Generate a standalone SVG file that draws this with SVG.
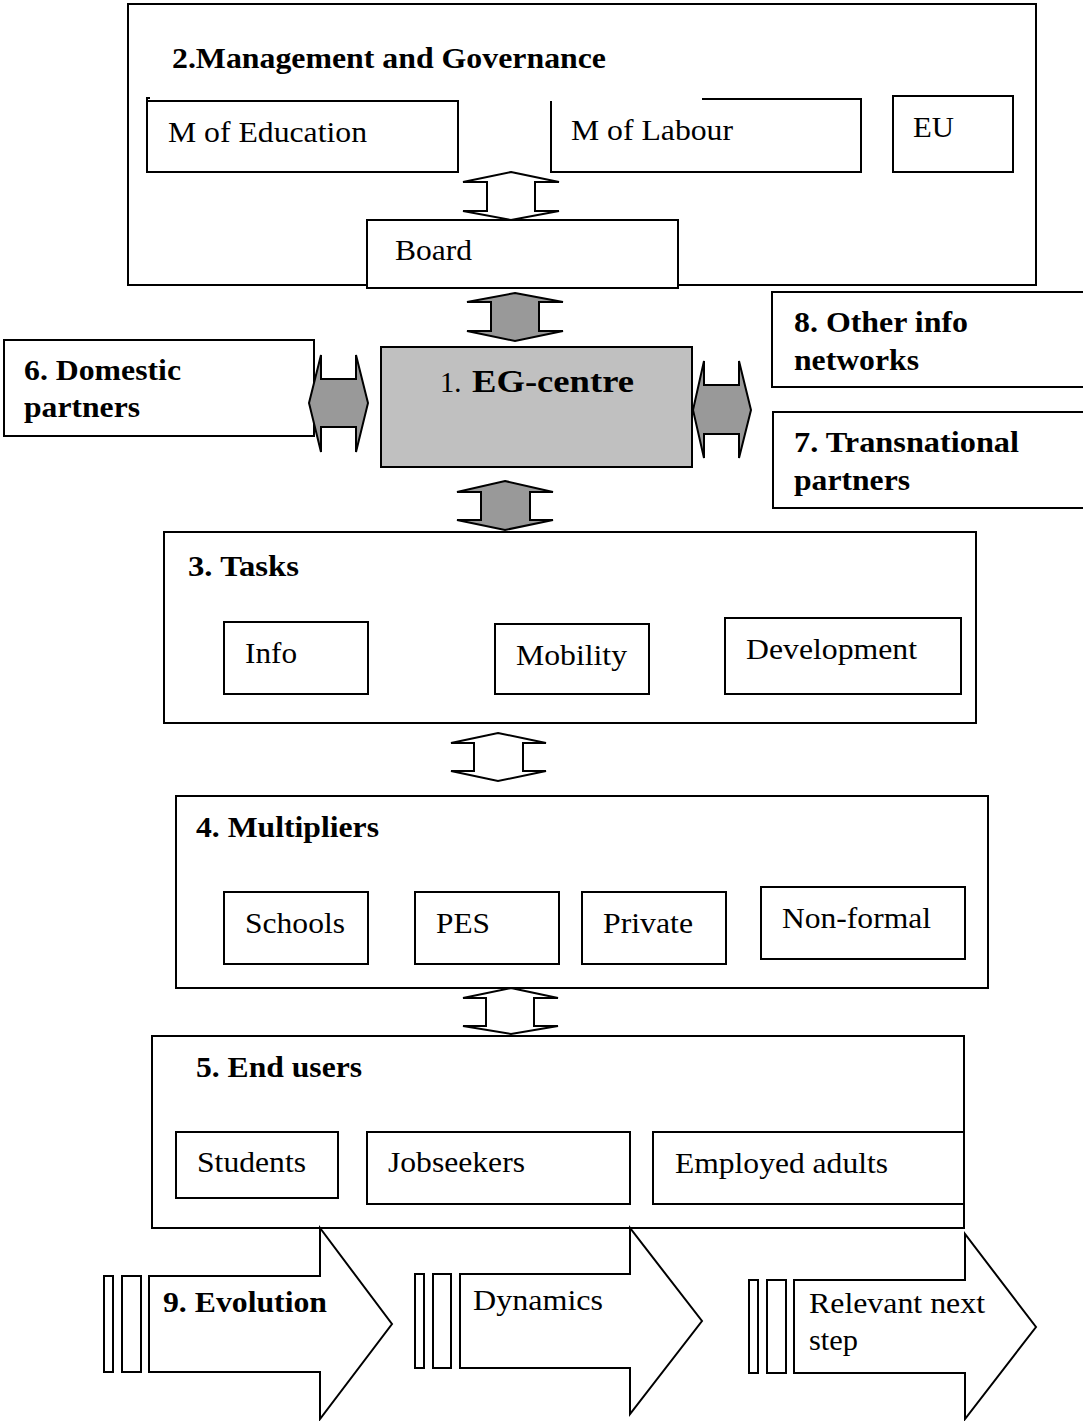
<svg xmlns="http://www.w3.org/2000/svg" width="1083" height="1421" viewBox="0 0 1083 1421" font-family="'Liberation Serif', Tinos, 'Times New Roman', Times, serif">
<style>
.box, .eg, .ga, .wa { stroke: #000; stroke-width: 2; }
.box { fill: #fff; }
.eg { fill: #c0c0c0; }
.ga { fill: #999999; }
.wa { fill: #fff; }
.r { font-size: 28.5px; fill: #000; }
.b { font-size: 30px; font-weight: bold; fill: #000; }
</style>
<rect width="1083" height="1421" fill="#fff"/>

<g id="management">
  <rect class="box" x="128" y="4" width="908" height="281"/>
  <text class="b" x="172" y="68" textLength="434" lengthAdjust="spacingAndGlyphs">2.Management and Governance</text>
</g>
<g id="m-education">
  <rect class="box" x="147" y="101" width="311" height="71"/>
  <path class="box" d="M147,101 L147,98 L150,98"/>
  <text class="r" x="168" y="142" textLength="199" lengthAdjust="spacingAndGlyphs">M of Education</text>
</g>
<g id="m-labour">
  <path class="box" d="M702,99 L861,99 L861,172 L551,172 L551,101"/>
  <text class="r" x="571" y="140" textLength="162" lengthAdjust="spacingAndGlyphs">M of Labour</text>
</g>
<g id="eu">
  <rect class="box" x="893" y="96" width="120" height="76"/>
  <text class="r" x="913" y="137" textLength="41" lengthAdjust="spacingAndGlyphs">EU</text>
</g>
<g id="board">
  <rect class="box" x="367" y="220" width="311" height="68"/>
  <text class="r" x="395" y="260" textLength="77" lengthAdjust="spacingAndGlyphs">Board</text>
</g>

<g id="eg-centre">
  <rect class="eg" x="381" y="347" width="311" height="120"/>
  <text x="440" y="392" font-size="28.5">1.</text>
  <text x="472" y="392" font-size="32" font-weight="bold" textLength="162" lengthAdjust="spacingAndGlyphs">EG-centre</text>
</g>

<g id="domestic">
  <rect class="box" x="4" y="340" width="310" height="96"/>
  <text class="b" x="24" y="380" textLength="157" lengthAdjust="spacingAndGlyphs">6. Domestic</text>
  <text class="b" x="24" y="417" textLength="116" lengthAdjust="spacingAndGlyphs">partners</text>
</g>
<g id="other-info">
  <rect class="box" x="772" y="292" width="320" height="95"/>
  <text class="b" x="794" y="332" textLength="174" lengthAdjust="spacingAndGlyphs">8. Other info</text>
  <text class="b" x="794" y="370" textLength="125" lengthAdjust="spacingAndGlyphs">networks</text>
</g>
<g id="transnational">
  <rect class="box" x="773" y="412" width="320" height="96"/>
  <text class="b" x="794" y="452" textLength="225" lengthAdjust="spacingAndGlyphs">7. Transnational</text>
  <text class="b" x="794" y="490" textLength="116" lengthAdjust="spacingAndGlyphs">partners</text>
</g>

<g id="tasks">
  <rect class="box" x="164" y="532" width="812" height="191"/>
  <text class="b" x="188" y="576" textLength="111" lengthAdjust="spacingAndGlyphs">3. Tasks</text>
</g>
<g id="info">
  <rect class="box" x="224" y="622" width="144" height="72"/>
  <text class="r" x="245" y="663" textLength="52" lengthAdjust="spacingAndGlyphs">Info</text>
</g>
<g id="mobility">
  <rect class="box" x="495" y="624" width="154" height="70"/>
  <text class="r" x="516" y="665" textLength="111" lengthAdjust="spacingAndGlyphs">Mobility</text>
</g>
<g id="development">
  <rect class="box" x="725" y="618" width="236" height="76"/>
  <text class="r" x="746" y="659" textLength="171" lengthAdjust="spacingAndGlyphs">Development</text>
</g>

<g id="multipliers">
  <rect class="box" x="176" y="796" width="812" height="192"/>
  <text class="b" x="196" y="837" textLength="183" lengthAdjust="spacingAndGlyphs">4. Multipliers</text>
</g>
<g id="schools">
  <rect class="box" x="224" y="892" width="144" height="72"/>
  <text class="r" x="245" y="933" textLength="100" lengthAdjust="spacingAndGlyphs">Schools</text>
</g>
<g id="pes">
  <rect class="box" x="415" y="892" width="144" height="72"/>
  <text class="r" x="436" y="933" textLength="54" lengthAdjust="spacingAndGlyphs">PES</text>
</g>
<g id="private">
  <rect class="box" x="582" y="892" width="144" height="72"/>
  <text class="r" x="603" y="933" textLength="90" lengthAdjust="spacingAndGlyphs">Private</text>
</g>
<g id="non-formal">
  <rect class="box" x="761" y="887" width="204" height="72"/>
  <text class="r" x="782" y="928" textLength="149" lengthAdjust="spacingAndGlyphs">Non-formal</text>
</g>

<g id="end-users">
  <rect class="box" x="152" y="1036" width="812" height="192"/>
  <text class="b" x="196" y="1077" textLength="166" lengthAdjust="spacingAndGlyphs">5. End users</text>
</g>
<g id="students">
  <rect class="box" x="176" y="1132" width="162" height="66"/>
  <text class="r" x="197" y="1172" textLength="109" lengthAdjust="spacingAndGlyphs">Students</text>
</g>
<g id="jobseekers">
  <rect class="box" x="367" y="1132" width="263" height="72"/>
  <text class="r" x="388" y="1172" textLength="137" lengthAdjust="spacingAndGlyphs">Jobseekers</text>
</g>
<g id="employed">
  <rect class="box" x="653" y="1132" width="311" height="72"/>
  <text class="r" x="675" y="1173" textLength="213" lengthAdjust="spacingAndGlyphs">Employed adults</text>
</g>

<g id="connectors">
  <path class="wa" d="M511,172 L559,182 L535,182 L535,211 L559,211 L511,220 L463,211 L487,211 L487,182 L463,182 Z"/>
  <path class="ga" d="M515,293 L563,302 L539,302 L539,331 L563,331 L515,341 L467,331 L491,331 L491,302 L467,302 Z"/>
  <path class="ga" d="M505,481 L553,492 L530,492 L530,520 L553,520 L505,530 L457,520 L481,520 L481,492 L457,492 Z"/>
  <path class="ga" d="M309,403 L321,355 L321,379 L356,379 L356,355 L368,403 L356,452 L356,427 L321,427 L321,452 Z"/>
  <path class="ga" d="M693,410 L704,361 L704,385 L739,385 L739,361 L751,410 L739,458 L739,434 L704,434 L704,458 Z"/>
  <path class="wa" d="M498,733 L546,743 L523,743 L523,771 L546,771 L498,781 L451,771 L474,771 L474,743 L451,743 Z"/>
  <path class="wa" d="M511,988 L558,998 L534,998 L534,1026 L558,1026 L511,1034 L463,1026 L486,1026 L486,998 L463,998 Z"/>
</g>

<g id="evolution">
  <rect class="box" x="104" y="1276" width="9" height="96"/>
  <rect class="box" x="122" y="1276" width="19" height="96"/>
  <path class="wa" d="M149,1276 L320,1276 L320,1228 L392,1324 L320,1419 L320,1372 L149,1372 Z"/>
  <text class="b" x="163" y="1312" textLength="164" lengthAdjust="spacingAndGlyphs">9. Evolution</text>
</g>
<g id="dynamics">
  <rect class="box" x="415" y="1274" width="9" height="94"/>
  <rect class="box" x="433" y="1274" width="18" height="94"/>
  <path class="wa" d="M460,1274 L630,1274 L630,1228 L702,1321 L630,1414 L630,1368 L460,1368 Z"/>
  <text class="r" x="473" y="1310" textLength="130" lengthAdjust="spacingAndGlyphs">Dynamics</text>
</g>
<g id="next-step">
  <rect class="box" x="749" y="1280" width="9" height="93"/>
  <rect class="box" x="767" y="1280" width="19" height="93"/>
  <path class="wa" d="M794,1280 L965,1280 L965,1234 L1036,1327 L965,1419 L965,1373 L794,1373 Z"/>
  <text class="r" x="809" y="1313" textLength="176" lengthAdjust="spacingAndGlyphs">Relevant next</text>
  <text class="r" x="809" y="1350" textLength="49" lengthAdjust="spacingAndGlyphs">step</text>
</g>
</svg>
